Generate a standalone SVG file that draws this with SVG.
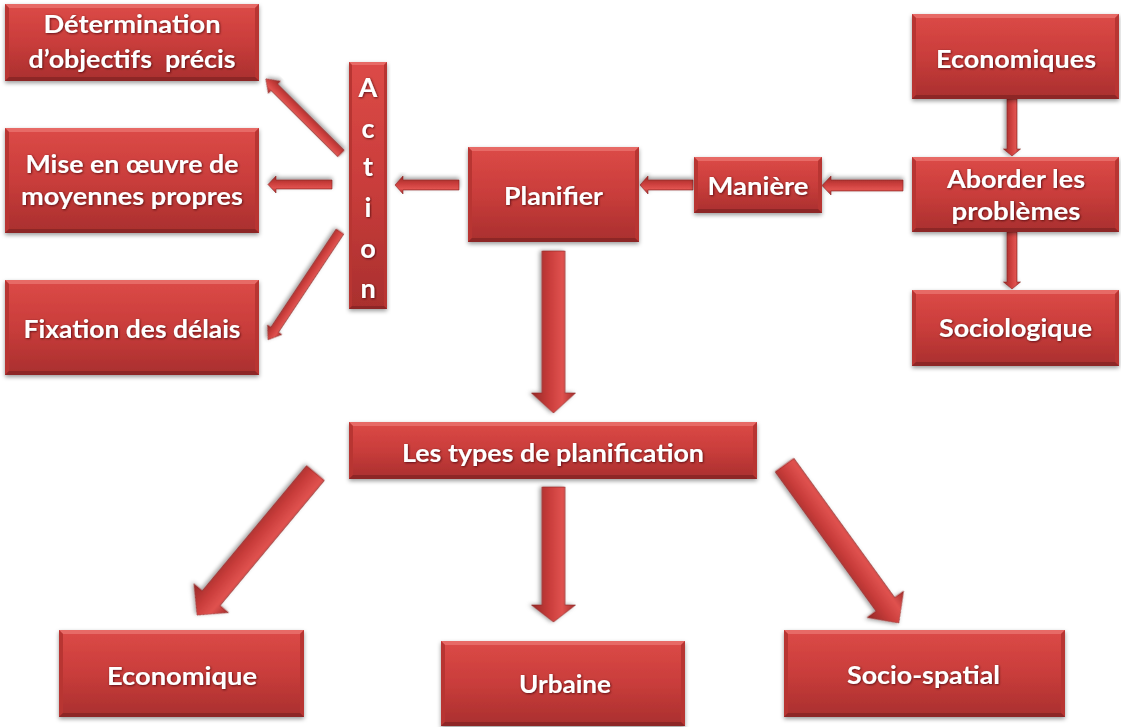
<svg xmlns="http://www.w3.org/2000/svg" width="1121" height="727" viewBox="0 0 1121 727">
  <defs>
    <linearGradient id="boxFill" x1="0" y1="0" x2="0" y2="1">
      <stop offset="0" stop-color="#dc4a47"/>
      <stop offset="0.5" stop-color="#c93d3b"/>
      <stop offset="1" stop-color="#a92f2e"/>
    </linearGradient>
    <linearGradient id="arrowFill" x1="0" y1="0" x2="0" y2="1">
      <stop offset="0" stop-color="#a32d2c"/>
      <stop offset="0.3" stop-color="#e0524f"/>
      <stop offset="0.6" stop-color="#c83c3a"/>
      <stop offset="1" stop-color="#952927"/>
    </linearGradient>
    <filter id="shadow" x="-10%" y="-10%" width="120%" height="130%">
      <feDropShadow dx="0" dy="2" stdDeviation="2" flood-color="#000" flood-opacity="0.4"/>
    </filter>
    <filter id="textShadow" x="-5%" y="-20%" width="110%" height="140%">
      <feDropShadow dx="0.8" dy="0.8" stdDeviation="0.8" flood-color="#3a0010" flood-opacity="0.8"/>
    </filter>
  </defs>
  <style>
    .box { fill: url(#boxFill); }
    .hi { fill: #e76a66; }
    .side { fill: #b83533; }
    .lo { fill: #8d2726; }
    .node { filter: url(#shadow); }
    .lbl { font-family: Lato, "Open Sans", "DejaVu Sans", sans-serif; font-weight: bold; font-size: 25px; fill: #ffffff; text-anchor: middle; filter: url(#textShadow); }
    .vert { font-size: 27px; }
    .arr { fill: url(#arrowFill); stroke: #8a2524; stroke-width: 0.6; filter: url(#shadow); }
  </style>

  <rect width="1121" height="727" fill="#ffffff"/>

  <!-- connectors -->
  <g id="connectors">
    <polygon class="arr" points="0,-11.5 142,-11.5 142,-22 162,0 142,22 142,11.5 0,11.5" transform="translate(553.5,251) rotate(90)"/>
    <polygon class="arr" points="0,-11.5 118,-11.5 118,-22 135,0 118,22 118,11.5 0,11.5" transform="translate(553.5,487) rotate(90)"/>
    <polygon class="arr" points="0,-11.5 163,-11.5 163,-22.5 185,0 163,22.5 163,11.5 0,11.5" transform="translate(315.5,473) rotate(129.8)"/>
    <polygon class="arr" points="0,-11.5 172,-11.5 172,-22.5 195,0 172,22.5 172,11.5 0,11.5" transform="translate(784.5,465) rotate(54.1)"/>
    <polygon class="arr" points="0,-5 56,-5 56,-9 64,0 56,9 56,5 0,5" transform="translate(459,185) rotate(180)"/>
    <polygon class="arr" points="0,-5 45,-5 45,-9 53,0 45,9 45,5 0,5" transform="translate(693,185) rotate(180)"/>
    <polygon class="arr" points="0,-5.5 72,-5.5 72,-9.5 81,0 72,9.5 72,5.5 0,5.5" transform="translate(903,185.5) rotate(180)"/>
    <polygon class="arr" points="0,-5 50,-5 50,-8.5 57,0 50,8.5 50,5 0,5" transform="translate(1012,99) rotate(90)"/>
    <polygon class="arr" points="0,-5 50,-5 50,-8.5 57,0 50,8.5 50,5 0,5" transform="translate(1012,232) rotate(90)"/>
    <polygon class="arr" points="0,-4.5 94,-4.5 94,-8.5 106,0 94,8.5 94,4.5 0,4.5" transform="translate(341,153.5) rotate(-135.2)"/>
    <polygon class="arr" points="0,-4.5 56,-4.5 56,-8.5 64,0 56,8.5 56,4.5 0,4.5" transform="translate(332,184.5) rotate(180)"/>
    <polygon class="arr" points="0,-4.5 118,-4.5 118,-8.5 130,0 118,8.5 118,4.5 0,4.5" transform="translate(340,231.5) rotate(123.6)"/>
  </g>

  <!-- Détermination d'objectifs précis -->
  <g id="determination" class="node">
    <rect class="box" x="5" y="4" width="254" height="77"/>
    <polygon class="hi" points="5,4 259,4 255,8 9,8"/>
    <polygon class="side" points="5,4 9,8 9,77 5,81"/>
    <polygon class="side" points="259,4 255,8 255,77 259,81"/>
    <polygon class="lo" points="5,81 9,77 255,77 259,81"/>
    <text class="lbl" x="132" y="33" textLength="177" lengthAdjust="spacingAndGlyphs">Détermination</text>
    <text class="lbl" x="132" y="68" textLength="207" lengthAdjust="spacingAndGlyphs" xml:space="preserve">d’objectifs  précis</text>
  </g>

  <!-- Mise en œuvre de moyennes propres -->
  <g id="mise-en-oeuvre" class="node">
    <rect class="box" x="5" y="128" width="254" height="105"/>
    <polygon class="hi" points="5,128 259,128 255,132 9,132"/>
    <polygon class="side" points="5,128 9,132 9,229 5,233"/>
    <polygon class="side" points="259,128 255,132 255,229 259,233"/>
    <polygon class="lo" points="5,233 9,229 255,229 259,233"/>
    <text class="lbl" x="132" y="173" textLength="213" lengthAdjust="spacingAndGlyphs">Mise en œuvre de</text>
    <text class="lbl" x="132" y="205" textLength="222" lengthAdjust="spacingAndGlyphs">moyennes propres</text>
  </g>

  <!-- Fixation des délais -->
  <g id="fixation" class="node">
    <rect class="box" x="5" y="280" width="254" height="95"/>
    <polygon class="hi" points="5,280 259,280 255,284 9,284"/>
    <polygon class="side" points="5,280 9,284 9,371 5,375"/>
    <polygon class="side" points="259,280 255,284 255,371 259,375"/>
    <polygon class="lo" points="5,375 9,371 255,371 259,375"/>
    <text class="lbl" x="132" y="338" textLength="217" lengthAdjust="spacingAndGlyphs">Fixation des délais</text>
  </g>

  <!-- Action (vertical) -->
  <g id="action" class="node">
    <rect class="box" x="349" y="62" width="38" height="247"/>
    <polygon class="hi" points="349,62 387,62 384,65 352,65"/>
    <polygon class="side" points="349,62 352,65 352,306 349,309"/>
    <polygon class="side" points="387,62 384,65 384,306 387,309"/>
    <polygon class="lo" points="349,309 352,306 384,306 387,309"/>
    <text class="lbl vert" x="368" y="97">A</text>
    <text class="lbl vert" x="368" y="138">c</text>
    <text class="lbl vert" x="368" y="176">t</text>
    <text class="lbl vert" x="368" y="217">i</text>
    <text class="lbl vert" x="368" y="258">o</text>
    <text class="lbl vert" x="368" y="298">n</text>
  </g>

  <!-- Planifier -->
  <g id="planifier" class="node">
    <rect class="box" x="468" y="147" width="171" height="95"/>
    <polygon class="hi" points="468,147 639,147 635,151 472,151"/>
    <polygon class="side" points="468,147 472,151 472,238 468,242"/>
    <polygon class="side" points="639,147 635,151 635,238 639,242"/>
    <polygon class="lo" points="468,242 472,238 635,238 639,242"/>
    <text class="lbl" x="553.5" y="205" textLength="99" lengthAdjust="spacingAndGlyphs">Planifier</text>
  </g>

  <!-- Manière -->
  <g id="maniere" class="node">
    <rect class="box" x="694" y="157" width="128" height="56"/>
    <polygon class="hi" points="694,157 822,157 818,161 698,161"/>
    <polygon class="side" points="694,157 698,161 698,209 694,213"/>
    <polygon class="side" points="822,157 818,161 818,209 822,213"/>
    <polygon class="lo" points="694,213 698,209 818,209 822,213"/>
    <text class="lbl" x="758" y="195" textLength="101" lengthAdjust="spacingAndGlyphs">Manière</text>
  </g>

  <!-- Economiques -->
  <g id="economiques" class="node">
    <rect class="box" x="912" y="14" width="207" height="85"/>
    <polygon class="hi" points="912,14 1119,14 1115,18 916,18"/>
    <polygon class="side" points="912,14 916,18 916,95 912,99"/>
    <polygon class="side" points="1119,14 1115,18 1115,95 1119,99"/>
    <polygon class="lo" points="912,99 916,95 1115,95 1119,99"/>
    <text class="lbl" x="1016" y="68" textLength="160" lengthAdjust="spacingAndGlyphs">Economiques</text>
  </g>

  <!-- Aborder les problèmes -->
  <g id="aborder" class="node">
    <rect class="box" x="912" y="157" width="207" height="75"/>
    <polygon class="hi" points="912,157 1119,157 1115,161 916,161"/>
    <polygon class="side" points="912,157 916,161 916,228 912,232"/>
    <polygon class="side" points="1119,157 1115,161 1115,228 1119,232"/>
    <polygon class="lo" points="912,232 916,228 1115,228 1119,232"/>
    <text class="lbl" x="1016" y="188" textLength="138" lengthAdjust="spacingAndGlyphs">Aborder les</text>
    <text class="lbl" x="1016" y="220" textLength="129" lengthAdjust="spacingAndGlyphs">problèmes</text>
  </g>

  <!-- Sociologique -->
  <g id="sociologique" class="node">
    <rect class="box" x="912" y="290" width="207" height="76"/>
    <polygon class="hi" points="912,290 1119,290 1115,294 916,294"/>
    <polygon class="side" points="912,290 916,294 916,362 912,366"/>
    <polygon class="side" points="1119,290 1115,294 1115,362 1119,366"/>
    <polygon class="lo" points="912,366 916,362 1115,362 1119,366"/>
    <text class="lbl" x="1015.5" y="337" textLength="153" lengthAdjust="spacingAndGlyphs">Sociologique</text>
  </g>

  <!-- Les types de planification -->
  <g id="types" class="node">
    <rect class="box" x="349" y="422" width="408" height="57"/>
    <polygon class="hi" points="349,422 757,422 753,426 353,426"/>
    <polygon class="side" points="349,422 353,426 353,475 349,479"/>
    <polygon class="side" points="757,422 753,426 753,475 757,479"/>
    <polygon class="lo" points="349,479 353,475 753,475 757,479"/>
    <text class="lbl" x="553" y="462" textLength="302" lengthAdjust="spacingAndGlyphs">Les types de planification</text>
  </g>

  <!-- Economique -->
  <g id="economique" class="node">
    <rect class="box" x="59" y="630" width="245" height="87"/>
    <polygon class="hi" points="59,630 304,630 300,634 63,634"/>
    <polygon class="side" points="59,630 63,634 63,713 59,717"/>
    <polygon class="side" points="304,630 300,634 300,713 304,717"/>
    <polygon class="lo" points="59,717 63,713 300,713 304,717"/>
    <text class="lbl" x="182" y="685" textLength="150" lengthAdjust="spacingAndGlyphs">Economique</text>
  </g>

  <!-- Urbaine -->
  <g id="urbaine" class="node">
    <rect class="box" x="441" y="641" width="244" height="85"/>
    <polygon class="hi" points="441,641 685,641 681,645 445,645"/>
    <polygon class="side" points="441,641 445,645 445,722 441,726"/>
    <polygon class="side" points="685,641 681,645 681,722 685,726"/>
    <polygon class="lo" points="441,726 445,722 681,722 685,726"/>
    <text class="lbl" x="565" y="693" textLength="92" lengthAdjust="spacingAndGlyphs">Urbaine</text>
  </g>

  <!-- Socio-spatial -->
  <g id="socio-spatial" class="node">
    <rect class="box" x="784" y="630" width="281" height="87"/>
    <polygon class="hi" points="784,630 1065,630 1061,634 788,634"/>
    <polygon class="side" points="784,630 788,634 788,713 784,717"/>
    <polygon class="side" points="1065,630 1061,634 1061,713 1065,717"/>
    <polygon class="lo" points="784,717 788,713 1061,713 1065,717"/>
    <text class="lbl" x="923.5" y="684" textLength="153" lengthAdjust="spacingAndGlyphs">Socio-spatial</text>
  </g>
</svg>
